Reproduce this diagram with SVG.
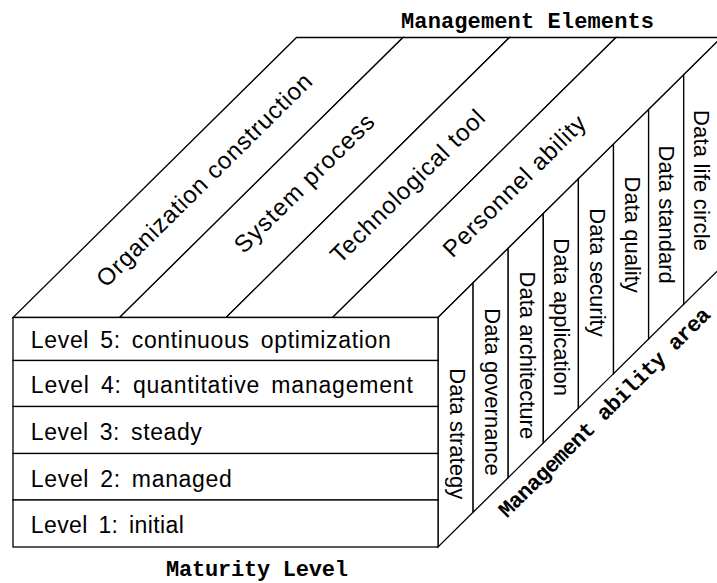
<svg xmlns="http://www.w3.org/2000/svg" width="717" height="583" viewBox="0 0 717 583">
<style>
.f{fill:#fff;stroke:#000;stroke-width:1.3;stroke-linejoin:miter}
.lv{font-family:"Liberation Sans",Arial,sans-serif;font-size:23px;fill:#000;word-spacing:4px}
.tp{font-family:"Liberation Sans",Arial,sans-serif;font-size:24px;fill:#000}
.vt{font-family:"Liberation Sans",Arial,sans-serif;font-size:22px;fill:#000}
.hd{font-family:"Liberation Mono","DejaVu Sans Mono",monospace;font-size:22px;font-weight:bold;fill:#000}
</style>
<rect width="717" height="583" fill="#fff"/>

<g id="top-face">
  <g id="el-organization">
    <polygon class="f" points="13,317.5 119.5,317.5 403,37.5 296.5,37.5"/>
    <text class="tp" transform="translate(106.1,288.5) rotate(-44.7)" textLength="292" lengthAdjust="spacing">Organization construction</text>
  </g>
  <g id="el-system">
    <polygon class="f" points="119.5,317.5 226,317.5 509.5,37.5 403,37.5"/>
    <text class="tp" transform="translate(243.8,254.4) rotate(-44.7)" textLength="186" lengthAdjust="spacing">System process</text>
  </g>
  <g id="el-technological">
    <polygon class="f" points="226,317.5 332.5,317.5 616,37.5 509.5,37.5"/>
    <text class="tp" transform="translate(340.1,264.5) rotate(-44.7)" textLength="206" lengthAdjust="spacing">Technological tool</text>
  </g>
  <g id="el-personnel">
    <polygon class="f" points="332.5,317.5 438,317.5 721.5,37.5 616,37.5"/>
    <text class="tp" transform="translate(452.4,258.7) rotate(-44.7)" textLength="190" lengthAdjust="spacing">Personnel ability</text>
  </g>
</g>

<g id="right-face">
  <g id="area-strategy">
    <polygon class="f" points="438,317.5 473.1,282.8 473.1,512.3 438,547"/>
    <text class="vt" transform="translate(449.5,368.3) rotate(90)">Data strategy</text>
  </g>
  <g id="area-governance">
    <polygon class="f" points="473.1,282.8 508.2,248.2 508.2,477.7 473.1,512.3"/>
    <text class="vt" transform="translate(484.6,308.3) rotate(90)">Data governance</text>
  </g>
  <g id="area-architecture">
    <polygon class="f" points="508.2,248.2 543.3,213.5 543.3,443 508.2,477.7"/>
    <text class="vt" transform="translate(519.5,271.6) rotate(90)">Data architecture</text>
  </g>
  <g id="area-application">
    <polygon class="f" points="543.3,213.5 578.4,178.8 578.4,408.3 543.3,443"/>
    <text class="vt" transform="translate(554.3,238.3) rotate(90)">Data application</text>
  </g>
  <g id="area-security">
    <polygon class="f" points="578.4,178.8 613.5,144.1 613.5,373.6 578.4,408.3"/>
    <text class="vt" transform="translate(589.6,208.3) rotate(90)">Data security</text>
  </g>
  <g id="area-quality">
    <polygon class="f" points="613.5,144.1 648.6,109.5 648.6,339 613.5,373.6"/>
    <text class="vt" transform="translate(624.6,176.6) rotate(90)">Data quality</text>
  </g>
  <g id="area-standard">
    <polygon class="f" points="648.6,109.5 683.7,74.8 683.7,304.3 648.6,339"/>
    <text class="vt" transform="translate(659.4,145.6) rotate(90)">Data standard</text>
  </g>
  <g id="area-lifecircle">
    <polygon class="f" points="683.7,74.8 721.5,37.5 721.5,267 683.7,304.3"/>
    <text class="vt" transform="translate(694.4,110) rotate(90)" textLength="141" lengthAdjust="spacing">Data life circle</text>
  </g>
</g>

<g id="front-face">
  <g id="level-5">
    <rect class="f" x="13" y="317.5" width="425" height="43"/>
    <text class="lv" x="30.8" y="347.5" textLength="360" lengthAdjust="spacing">Level 5: continuous optimization</text>
  </g>
  <g id="level-4">
    <rect class="f" x="13" y="360.5" width="425" height="46"/>
    <text class="lv" x="30.8" y="392.7" textLength="382" lengthAdjust="spacing">Level 4: quantitative management</text>
  </g>
  <g id="level-3">
    <rect class="f" x="13" y="406.5" width="425" height="47"/>
    <text class="lv" x="30.8" y="440" textLength="171" lengthAdjust="spacing">Level 3: steady</text>
  </g>
  <g id="level-2">
    <rect class="f" x="13" y="453.5" width="425" height="46.5"/>
    <text class="lv" x="30.8" y="486.7" textLength="201" lengthAdjust="spacing">Level 2: managed</text>
  </g>
  <g id="level-1">
    <rect class="f" x="13" y="500" width="425" height="47"/>
    <text class="lv" x="30.8" y="533.3" textLength="153" lengthAdjust="spacing">Level 1: initial</text>
  </g>
</g>

<g id="connectors"></g>

<g id="axis-labels">
  <text id="label-elements" class="hd" x="401" y="28" textLength="253" lengthAdjust="spacing">Management Elements</text>
  <text id="label-maturity" class="hd" x="166" y="576" textLength="182" lengthAdjust="spacing">Maturity Level</text>
  <text id="label-areas" class="hd" transform="translate(507,518.5) rotate(-44.7)" textLength="288" lengthAdjust="spacing">Management ability area</text>
</g>
</svg>
